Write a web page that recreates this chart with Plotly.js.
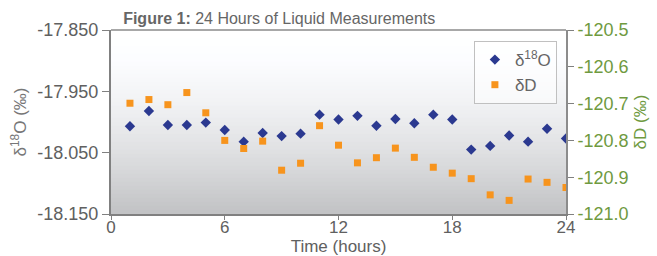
<!DOCTYPE html>
<html>
<head>
<meta charset="utf-8">
<script src="https://cdn.plot.ly/plotly-3.0.1.min.js"></script>
<style>html,body{margin:0;padding:0;background:#fff;}#chart{width:657px;height:256px;}</style>
</head>
<body>
<div id="chart"></div>
<script>
// Data
var hours = [1,2,3,4,5,6,7,8,9,10,11,12,13,14,15,16,17,18,19,20,21,22,23,24];
var d18O = [-18.007,-17.982,-18.005,-18.005,-18.001,-18.013,-18.032,-18.018,-18.023,-18.019,-17.988,-17.996,
            -17.990,-18.006,-17.995,-18.002,-17.988,-17.996,-18.045,-18.039,-18.022,-18.032,-18.011,-18.027];
var dD = [-120.699,-120.689,-120.703,-120.670,-120.725,-120.800,-120.822,-120.802,-120.881,-120.862,-120.760,-120.813,
          -120.861,-120.847,-120.821,-120.846,-120.873,-120.889,-120.904,-120.948,-120.963,-120.905,-120.914,-120.928];
var xTicks = [0,6,12,18,24];
var leftTicks = [-17.85,-17.95,-18.05,-18.15];
var leftTickText = ["-17.850","-17.950","-18.050","-18.150"];
var rightTicks = [-120.5,-120.6,-120.7,-120.8,-120.9,-121.0];
var rightTickText = ["-120.5","-120.6","-120.7","-120.8","-120.9","-121.0"];

var FONT = "Liberation Sans, Arial, sans-serif";

// gradient background bands (style only)
var shapes = [];
var N = 46;
for (var i = 0; i < N; i++) {
  var t = (i + 0.5) / N; // 0 top -> 1 bottom
  var v = Math.round(255 - 62 * Math.pow(t, 1.6));
  var c = 'rgb(' + v + ',' + Math.min(255, v+1) + ',' + Math.min(255, v+3) + ')';
  shapes.push({type:'rect', xref:'x domain', yref:'y domain', x0:0, x1:1,
    y0: 1 - (i+1)/N, y1: 1 - i/N + 0.001, fillcolor:c, line:{width:0}, layer:'below'});
}
shapes.push({type:'line', xref:'x domain', yref:'y domain', x0:0, x1:1, y0:1, y1:1,
  line:{color:'#a8a8a8', width:2}});

var traces = [
  {x: hours, y: d18O, name: 'δ<sup>18</sup>O', type: 'scatter', mode: 'markers',
   marker: {symbol: 'diamond', color: '#2b3990', size: 8}, yaxis: 'y'},
  {x: hours, y: dD, name: 'δD', type: 'scatter', mode: 'markers',
   marker: {symbol: 'square', color: '#f7941d', size: 7}, yaxis: 'y2'}
];

var layout = {
  width: 657, height: 256,
  margin: {l: 111, r: 91, t: 30, b: 42},
  paper_bgcolor: '#ffffff',
  plot_bgcolor: 'rgba(0,0,0,0)',
  font: {family: FONT, color: '#606060', size: 18},
  title: {text: '<b>Figure 1:</b> 24 Hours of Liquid Measurements',
    font: {family: FONT, size: 16, color: '#666666'},
    xref: 'container', x: 0.425, xanchor: 'center', yref: 'container', y: 0.93, yanchor: 'middle'},
  xaxis: {range: [0, 24], tickvals: xTicks, ticktext: xTicks.map(String),
    showline: true, linecolor: '#808080', linewidth: 2, showgrid: false, zeroline: false,
    ticks: 'outside', ticklen: 4, tickcolor: '#808080', tickwidth: 1,
    ticklabelstandoff: -7,
    tickfont: {size: 17, color: '#606060'},
    title: {text: 'Time (hours)', font: {size: 17, color: '#606060'}, standoff: 0}},
  yaxis: {range: [-18.15, -17.85], tickvals: leftTicks, ticktext: leftTickText,
    showline: true, linecolor: '#808080', linewidth: 2, showgrid: false, zeroline: false,
    ticks: 'outside', ticklen: 7, tickcolor: '#808080', tickwidth: 1,
    tickfont: {size: 18, color: '#606060'},
    title: {text: 'δ<sup>18</sup>O (‰)', font: {size: 17, color: '#777777'}, standoff: 6}},
  yaxis2: {range: [-121.0, -120.5], tickvals: rightTicks, ticktext: rightTickText,
    overlaying: 'y', side: 'right',
    showline: true, linecolor: '#8c8c8c', linewidth: 2, showgrid: false, zeroline: false,
    ticks: 'outside', ticklen: 6, tickcolor: '#808080', tickwidth: 1,
    tickfont: {size: 18, color: '#6f9a3f'},
    title: {text: 'δD (‰)', font: {size: 17, color: '#6f9a3f'}, standoff: 6}},
  legend: {x: 0.98, y: 0.94, xanchor: 'right', yanchor: 'top',
    bgcolor: 'rgba(255,255,255,0.5)', bordercolor: '#c0c0c0', borderwidth: 1,
    font: {size: 17, color: '#666666'}, itemwidth: 30, tracegroupgap: 0},
  shapes: shapes,
  showlegend: true
};

Plotly.newPlot('chart', traces, layout, {staticPlot: true, displayModeBar: false});
</script>
</body>
</html>
